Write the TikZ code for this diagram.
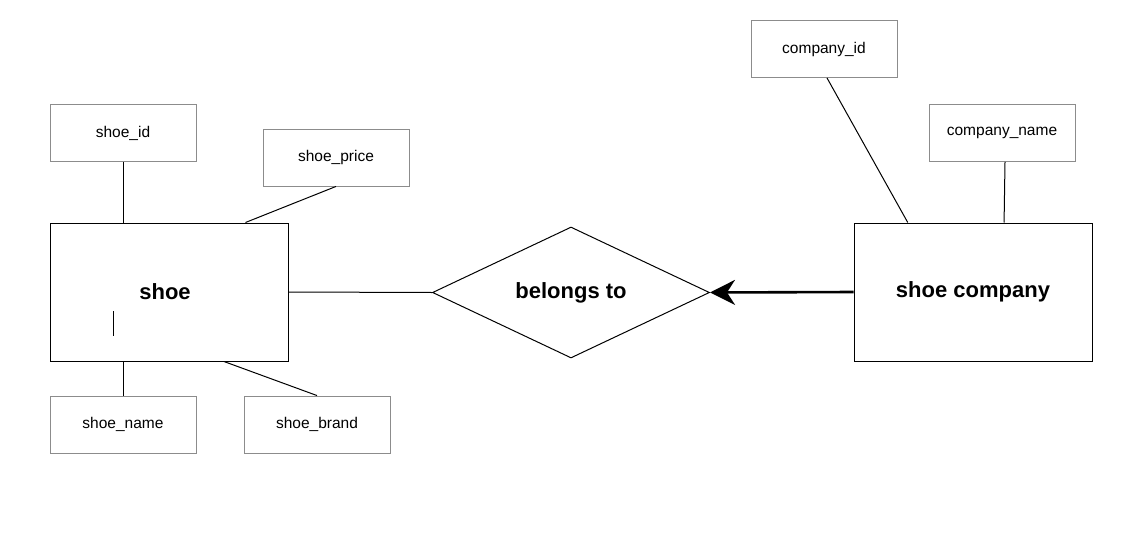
\documentclass[tikz,border=0pt]{standalone}
\usepackage{fontspec}
\setmainfont{Liberation Sans}
\usetikzlibrary{arrows.meta, positioning, shapes.geometric, calc}

\begin{document}
\begin{tikzpicture}[
		x=1pt, y=-1pt,
		every node/.style={font=\fontsize{15.5}{18}\selectfont},
		attr/.style={rectangle, draw=black!45, line width=0.9pt, minimum width=146pt, minimum height=57pt, inner sep=0pt},
		entity/.style={rectangle, draw, line width=1pt, minimum width=238pt, minimum height=138pt, font=\fontsize{22}{25}\selectfont\bfseries},
		rel/.style={diamond, draw, line width=1pt, aspect=2.1, inner sep=0pt, minimum width=277pt, minimum height=131pt, font=\fontsize{22}{25}\selectfont\bfseries},
		link/.style={line width=1pt, black},
		>=Stealth, black
		]
		\useasboundingbox (0,0) rectangle (1135,535);
		
		% entities and relation
		\node[entity] at (169,292) (shoe) {\hspace*{-8pt}shoe};
		\node[rel] at (571,292.5) (belongs) {\raisebox{-4pt}{belongs to}};
		\node[entity] at (973,292) (company) {shoe company};
		
		% attributes
		\node[attr] at (123,133) (shoeid) {shoe\_id};
		\node[attr] at (336,157.5) (shoeprice) {shoe\_price};
		\node[attr] at (123,424.5) (shoename) {shoe\_name};
		\node[attr] at (317,424.5) (shoebrand) {shoe\_brand};
		\node[attr] at (824,49) (companyid) {company\_id};
		\node[attr] at (1002,133) (companyname) {company\_name};
		
		% links
		\draw[link] (shoeid.south) -- (shoeid.south |- shoe.north);
		\draw[link] (shoeprice.south) -- ($(shoe.north west)!0.82!(shoe.north east)$);
		\draw[link] (shoename.north) -- (shoename.north |- shoe.south);
		\draw[link] (shoebrand.north) -- ($(shoe.south west)!0.73!(shoe.south east)$);
		\draw[link] (shoe.east) -- (belongs.west);
		\draw[->, line width=2.6pt, >={Stealth[length=25pt, width=25pt, inset=8pt]}] (company.west) -- (belongs.east);
		\draw[link] ($(companyid.south)+(3,0)$) -- ($(company.north west)!0.227!(company.north east)$);
		\draw[link] ($(companyname.south)+(3,0)$) -- ($(company.north west)!0.63!(company.north east)$);
		
		% cursor mark
		\draw[line width=0.9pt] (113,311) -- (113,336);
		
	\end{tikzpicture}
\end{document}
